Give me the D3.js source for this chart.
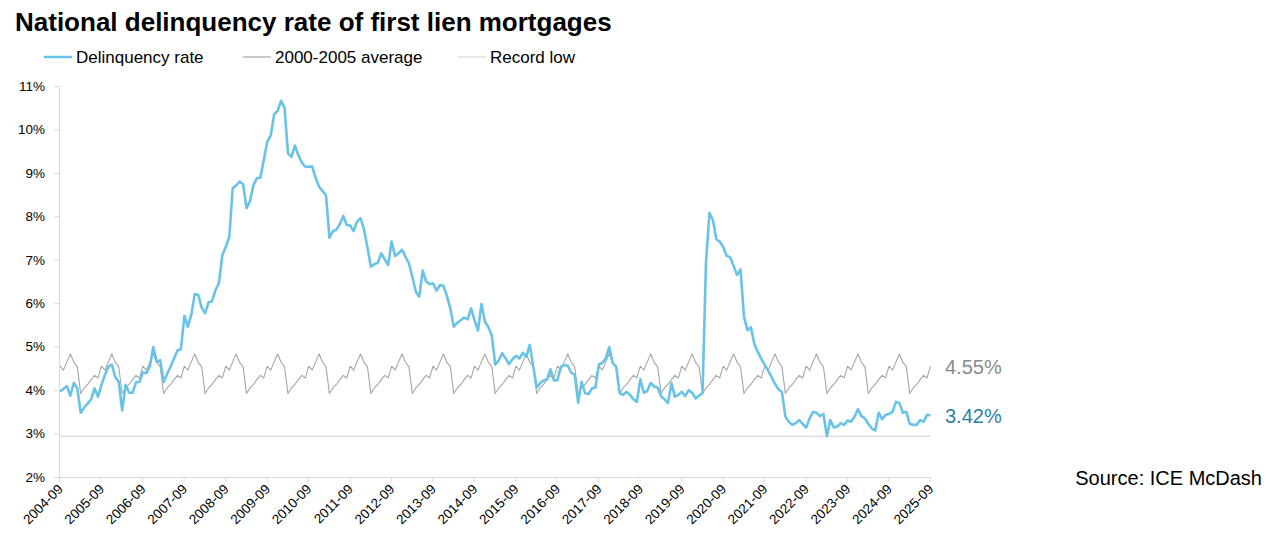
<!DOCTYPE html>
<html>
<head>
<meta charset="utf-8">
<script src="https://cdn.jsdelivr.net/npm/d3@7"></script>
<style>
  html, body { margin: 0; padding: 0; background: #fff; }
  svg { display: block; font-family: "Liberation Sans", Arial, sans-serif; }
</style>
</head>
<body>
<svg id="chart" width="1276" height="555"></svg>
<script>
// ---- Data ----
const startMonth = "2004-09"; // first month of the series (index 0)

// National delinquency rate (%), monthly, 2004-09 .. 2025-09
const delinquencyRate = [
  3.97,4.03,4.09,3.87,4.17,4.04,3.48,3.60,3.69,3.79,4.04,3.85,
  4.12,4.35,4.54,4.59,4.30,4.19,3.53,4.12,3.94,3.94,4.18,4.19,
  4.41,4.39,4.54,4.99,4.65,4.69,4.19,4.37,4.54,4.73,4.91,4.94,
  5.71,5.46,5.73,6.21,6.19,5.90,5.77,6.02,6.04,6.30,6.46,7.11,
  7.30,7.53,8.65,8.71,8.80,8.74,8.19,8.35,8.72,8.88,8.89,9.30,
  9.72,9.86,10.35,10.43,10.66,10.50,9.45,9.37,9.63,9.41,9.24,9.14,
  9.14,9.15,8.88,8.68,8.58,8.49,7.51,7.66,7.69,7.82,8.01,7.80,
  7.79,7.66,7.88,7.96,7.70,7.28,6.84,6.90,6.93,7.15,7.01,6.88,
  7.42,7.09,7.15,7.23,7.07,6.92,6.61,6.27,6.15,6.75,6.50,6.44,
  6.46,6.29,6.42,6.40,6.17,5.88,5.46,5.55,5.61,5.67,5.63,5.88,
  5.61,5.37,5.98,5.58,5.45,5.25,4.59,4.68,4.85,4.73,4.60,4.71,
  4.79,4.73,4.86,4.77,5.04,4.54,4.06,4.16,4.22,4.25,4.48,4.22,
  4.23,4.54,4.58,4.56,4.40,4.35,3.71,4.19,3.93,3.91,4.04,4.06,
  4.59,4.63,4.73,4.99,4.62,4.54,3.93,3.89,3.96,3.89,3.79,3.73,
  4.25,3.94,3.98,4.17,4.08,4.06,3.86,3.79,3.70,4.16,3.85,3.89,
  3.96,3.86,4.00,3.94,3.81,3.87,3.93,6.92,8.08,7.92,7.47,7.42,
  7.29,7.09,7.06,6.86,6.65,6.78,5.69,5.38,5.45,5.06,4.88,4.72,
  4.58,4.45,4.30,4.14,4.02,3.95,3.39,3.27,3.20,3.24,3.31,3.22,
  3.14,3.35,3.50,3.48,3.40,3.45,2.94,3.31,3.14,3.16,3.24,3.20,
  3.30,3.27,3.39,3.56,3.40,3.35,3.22,3.12,3.07,3.48,3.33,3.43,
  3.45,3.50,3.73,3.70,3.48,3.50,3.22,3.20,3.20,3.31,3.27,3.43,
  3.42
];

// 2000-2005 average rate (%) for each calendar month, Jan..Dec
const avgByCalendarMonth = [4.64, 4.54, 3.92, 4.05, 4.13, 4.24, 4.34, 4.28, 4.55, 4.46, 4.65, 4.83];

// Record low (%)
const recordLow = 2.94;

// Axis tick labels
const xTickLabels = ["2004-09","2005-09","2006-09","2007-09","2008-09","2009-09","2010-09",
  "2011-09","2012-09","2013-09","2014-09","2015-09","2016-09","2017-09","2018-09","2019-09",
  "2020-09","2021-09","2022-09","2023-09","2024-09","2025-09"];
const yTicks = [2, 3, 4, 5, 6, 7, 8, 9, 10, 11];

const seriesNames = ["Delinquency rate", "2000-2005 average", "Record low"];
const endLabels = ["4.55%", "3.42%"];
const sourceText = "Source: ICE McDash";
const titleText = "National delinquency rate of first lien mortgages";

// ---- Build series ----
const startYear = +startMonth.slice(0, 4), startMon = +startMonth.slice(5, 7) - 1;
const months = delinquencyRate.map((v, i) => {
  const m = startMon + i;
  return { i, year: startYear + Math.floor(m / 12), month: m % 12, rate: v };
});
months.forEach(d => { d.avg = avgByCalendarMonth[d.month]; d.low = recordLow; });
const labelIndex = new Map();
months.forEach(d => {
  const lab = d.year + "-" + String(d.month + 1).padStart(2, "0");
  if (xTickLabels.includes(lab)) labelIndex.set(d.i, lab);
});

// ---- Layout ----
const svg = d3.select("#chart");
const colors = { rate: "#69c3e8", avg: "#a6a6a6", low: "#dedede", axis: "#d9d9d9" };

const x = d3.scaleLinear().domain([0, delinquencyRate.length - 1]).range([60, 930.5]);
const y = d3.scaleLinear().domain([2, 11]).range([477, 86]);

// Title
svg.append("text").attr("x", 15).attr("y", 31)
  .attr("font-size", 26).attr("font-weight", "bold").attr("fill", "#000")
  .text(titleText);

// Legend
const legendItems = [
  { name: seriesNames[0], color: colors.rate, w: 2.5, x: 44 },
  { name: seriesNames[1], color: colors.avg, w: 1.2, x: 243 },
  { name: seriesNames[2], color: colors.low, w: 1.5, x: 458 }
];
const lg = svg.append("g");
legendItems.forEach(it => {
  lg.append("line").attr("x1", it.x).attr("x2", it.x + 28).attr("y1", 57).attr("y2", 57)
    .attr("stroke", it.color).attr("stroke-width", it.w);
  lg.append("text").attr("x", it.x + 32).attr("y", 63).attr("font-size", 17).attr("fill", "#000")
    .text(it.name);
});

// Axes
const yAxis = d3.axisLeft(y).tickValues(yTicks).tickFormat(d => d + "%")
  .tickSize(5).tickSizeOuter(0).tickPadding(9);
const gy = svg.append("g").attr("transform", "translate(59,0)").call(yAxis);
gy.select(".domain").attr("stroke", colors.axis);
gy.selectAll(".tick line").attr("stroke", colors.axis);
gy.selectAll(".tick text").attr("font-size", 13.5).attr("fill", "#000")
  .attr("font-family", "Liberation Sans, Arial, sans-serif");

const xAxis = d3.axisBottom(x).tickValues(Array.from(labelIndex.keys()))
  .tickFormat(i => labelIndex.get(i)).tickSize(5).tickSizeOuter(0);
const gx = svg.append("g").attr("transform", "translate(-0.8,477)").call(xAxis);
gx.select(".domain").attr("stroke", colors.axis);
gx.selectAll(".tick line").attr("stroke", colors.axis);
gx.selectAll(".tick text").attr("font-size", 13.5).attr("fill", "#000")
  .attr("font-family", "Liberation Sans, Arial, sans-serif")
  .attr("text-anchor", "end").attr("dy", 0).attr("y", 0)
  .attr("transform", "translate(4,13) rotate(-45)");

// Lines
const lineOf = key => d3.line().x(d => x(d.i)).y(d => y(d[key]));
svg.append("path").datum(months).attr("d", lineOf("low"))
  .attr("fill", "none").attr("stroke", colors.low).attr("stroke-width", 1.5);
svg.append("path").datum(months).attr("d", lineOf("avg"))
  .attr("fill", "none").attr("stroke", colors.avg).attr("stroke-width", 1.1)
  .attr("stroke-linejoin", "round");
svg.append("path").datum(months).attr("d", lineOf("rate"))
  .attr("fill", "none").attr("stroke", colors.rate).attr("stroke-width", 2.6)
  .attr("stroke-linejoin", "round");

// End labels
const last = months[months.length - 1];
svg.append("text").attr("x", 945).attr("y", y(last.avg) + 8).attr("font-size", 20)
  .attr("fill", "#8a8a8a").text(endLabels[0]);
svg.append("text").attr("x", 945).attr("y", y(last.rate) + 8).attr("font-size", 20)
  .attr("fill", "#2e80ab").text(endLabels[1]);

// Source
svg.append("text").attr("x", 1262).attr("y", 485).attr("text-anchor", "end")
  .attr("font-size", 20).attr("fill", "#000").text(sourceText);
</script>
</body>
</html>
